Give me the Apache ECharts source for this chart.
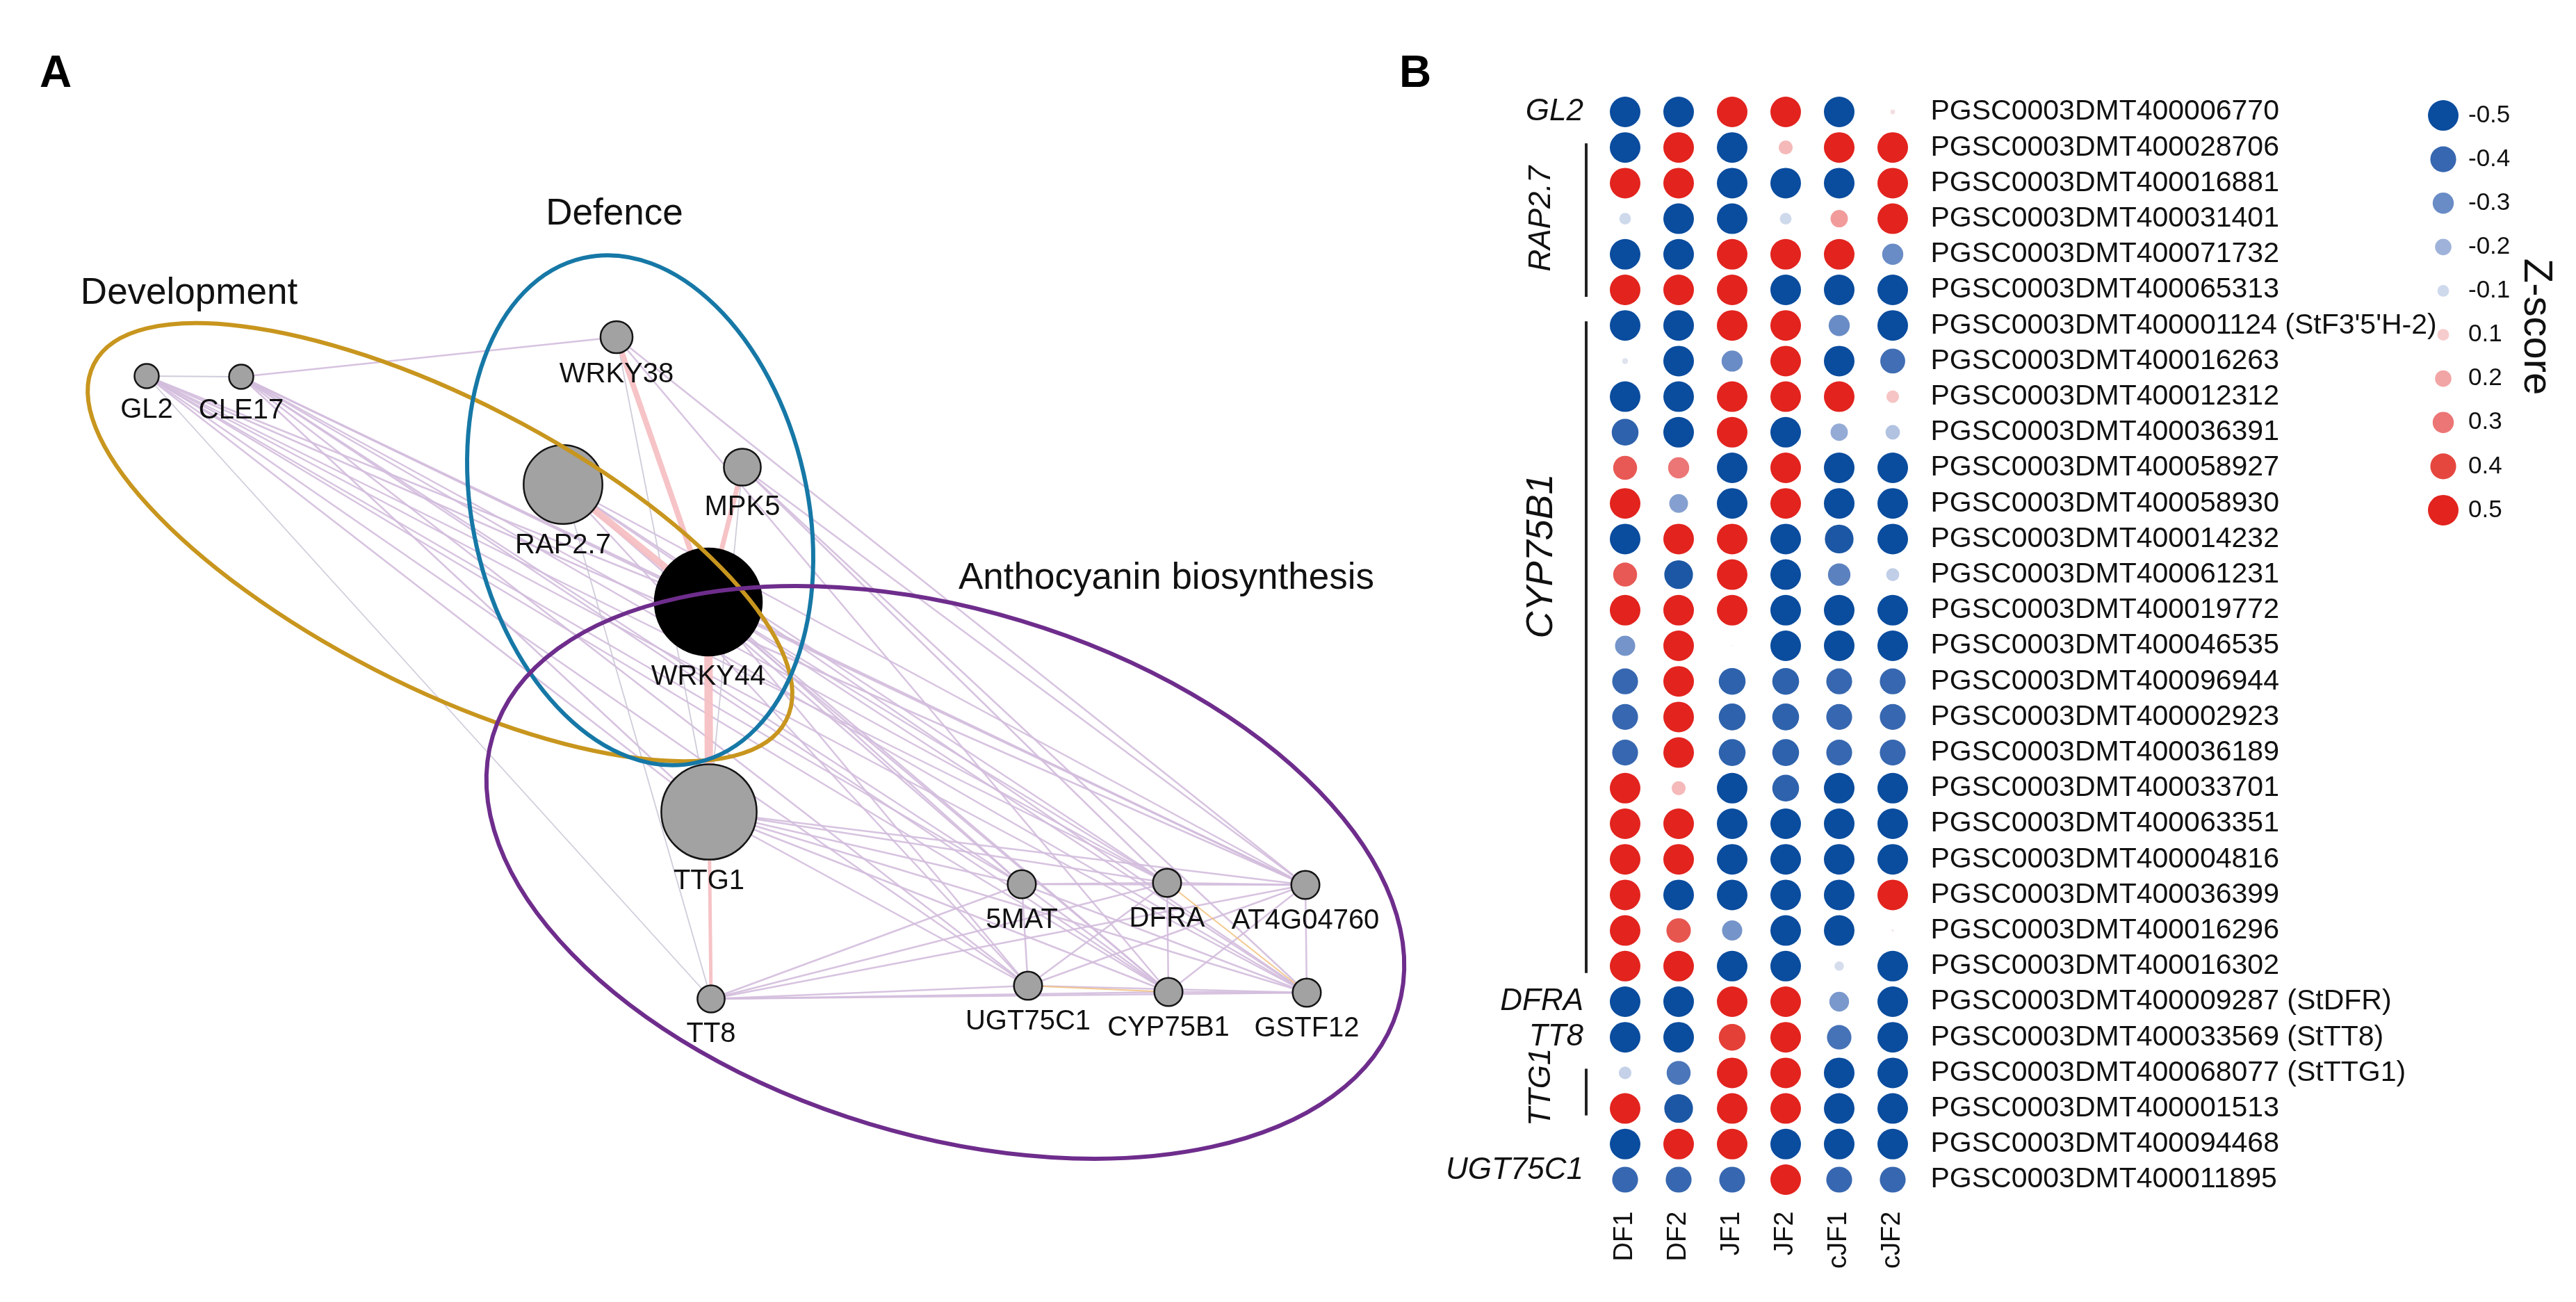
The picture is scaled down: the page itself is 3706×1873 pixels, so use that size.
<!DOCTYPE html>
<html><head><meta charset="utf-8">
<script src="https://cdn.jsdelivr.net/npm/echarts/dist/echarts.min.js"></script>
<style>html,body{margin:0;padding:0;background:#fff}#c{width:3706px;height:1873px}</style>
</head><body><div id="c"></div>
<script>
// ================= DATA =================
// ---- Panel A: network (layout coordinates in layout units) ----
const nodeNames = ['GL2','CLE17','WRKY38','RAP2.7','MPK5','WRKY44','TTG1','TT8','5MAT','DFRA','AT4G04760','UGT75C1','CYP75B1','GSTF12'];
const nodeX = [211, 347, 887, 810, 1068, 1019, 1020, 1023, 1470, 1679, 1878, 1479, 1681, 1880];
const nodeY = [541, 542, 485, 697, 672, 866, 1168, 1437, 1272, 1270, 1273, 1418, 1427, 1428];
const nodeScore = [0.25, 0.25, 0.33, 0.81, 0.38, 1.1, 0.98, 0.28, 0.29, 0.29, 0.29, 0.29, 0.29, 0.29];
const queryGene = 'WRKY44';
const coexpEdges = [['WRKY44','TTG1'],['WRKY44','RAP2.7'],['WRKY44','WRKY38'],['WRKY44','MPK5'],['TTG1','TT8']];
const coexpWeight = [12, 10, 8, 7, 5];
const pathwayEdges = [
 ['GL2','WRKY44'],['GL2','TTG1'],['GL2','5MAT'],['GL2','DFRA'],['GL2','AT4G04760'],['GL2','UGT75C1'],['GL2','CYP75B1'],['GL2','GSTF12'],
 ['CLE17','WRKY38'],['CLE17','WRKY44'],['CLE17','TTG1'],['CLE17','5MAT'],['CLE17','DFRA'],['CLE17','AT4G04760'],['CLE17','UGT75C1'],['CLE17','CYP75B1'],['CLE17','GSTF12'],
 ['RAP2.7','5MAT'],['RAP2.7','DFRA'],['RAP2.7','AT4G04760'],['RAP2.7','UGT75C1'],['RAP2.7','CYP75B1'],['RAP2.7','GSTF12'],
 ['WRKY38','AT4G04760'],['WRKY38','CYP75B1'],['MPK5','AT4G04760'],['MPK5','GSTF12'],['MPK5','DFRA'],
 ['WRKY44','5MAT'],['WRKY44','DFRA'],['WRKY44','AT4G04760'],['WRKY44','UGT75C1'],['WRKY44','CYP75B1'],['WRKY44','GSTF12'],
 ['TTG1','5MAT'],['TTG1','DFRA'],['TTG1','AT4G04760'],['TTG1','UGT75C1'],['TTG1','CYP75B1'],['TTG1','GSTF12'],
 ['TT8','5MAT'],['TT8','DFRA'],['TT8','AT4G04760'],['TT8','UGT75C1'],['TT8','CYP75B1'],['TT8','GSTF12'],
 ['5MAT','DFRA'],['DFRA','AT4G04760'],['5MAT','UGT75C1'],['DFRA','CYP75B1'],['AT4G04760','GSTF12'],['CYP75B1','GSTF12'],
 ['UGT75C1','GSTF12'],['5MAT','CYP75B1'],['5MAT','GSTF12'],['DFRA','UGT75C1'],['AT4G04760','UGT75C1'],['AT4G04760','CYP75B1'],['5MAT','AT4G04760']
];
const otherEdges = [['GL2','CLE17'],['GL2','TT8'],['RAP2.7','TT8'],['MPK5','TTG1'],['WRKY38','TTG1']];
const sharedDomainEdges = [['DFRA','GSTF12'],['UGT75C1','CYP75B1']];
const moduleNames = ['Development','Defence','Anthocyanin biosynthesis'];

// ---- Panel B: Z-score dot matrix ----
const samples = ['DF1','DF2','JF1','JF2','cJF1','cJF2'];
const transcripts = [
 'PGSC0003DMT400006770','PGSC0003DMT400028706','PGSC0003DMT400016881','PGSC0003DMT400031401',
 'PGSC0003DMT400071732','PGSC0003DMT400065313',"PGSC0003DMT400001124 (StF3'5'H-2)",'PGSC0003DMT400016263',
 'PGSC0003DMT400012312','PGSC0003DMT400036391','PGSC0003DMT400058927','PGSC0003DMT400058930',
 'PGSC0003DMT400014232','PGSC0003DMT400061231','PGSC0003DMT400019772','PGSC0003DMT400046535',
 'PGSC0003DMT400096944','PGSC0003DMT400002923','PGSC0003DMT400036189','PGSC0003DMT400033701',
 'PGSC0003DMT400063351','PGSC0003DMT400004816','PGSC0003DMT400036399','PGSC0003DMT400016296',
 'PGSC0003DMT400016302','PGSC0003DMT400009287 (StDFR)','PGSC0003DMT400033569 (StTT8)','PGSC0003DMT400068077 (StTTG1)',
 'PGSC0003DMT400001513','PGSC0003DMT400094468','PGSC0003DMT400011895'
];
const zDF1  = [-0.5,-0.5,0.5,-0.1,-0.5,0.5,-0.5,-0.05,-0.5,-0.42,0.36,0.5,-0.5,0.36,0.5,-0.28,-0.4,-0.4,-0.4,0.5,0.5,0.5,0.5,0.5,0.5,-0.5,-0.5,-0.12,0.5,-0.5,-0.4];
const zDF2  = [-0.5,0.5,0.5,-0.5,-0.5,0.5,-0.5,-0.5,-0.5,-0.5,0.3,-0.25,0.5,-0.46,0.5,0.5,0.5,0.5,0.5,0.15,0.5,0.5,-0.5,0.37,0.5,-0.5,-0.5,-0.36,-0.46,0.5,-0.4];
const zJF1  = [0.5,-0.5,-0.5,-0.5,0.5,0.5,0.5,-0.3,0.5,0.5,-0.5,-0.5,0.5,0.5,0.5,0.01,-0.42,-0.42,-0.42,-0.5,-0.5,-0.5,-0.5,-0.28,-0.5,0.5,0.42,0.5,0.5,0.5,-0.4];
const zJF2  = [0.5,0.15,-0.5,-0.1,0.5,-0.5,0.5,0.5,0.5,-0.5,0.5,0.5,-0.5,-0.5,-0.5,-0.5,-0.42,-0.42,-0.42,-0.42,-0.5,-0.5,-0.5,-0.5,-0.5,0.5,0.5,0.5,0.5,-0.5,0.5];
const zcJF1 = [-0.5,0.5,-0.5,0.22,0.5,-0.5,-0.3,-0.5,0.5,-0.22,-0.5,-0.5,-0.46,-0.33,-0.5,-0.5,-0.4,-0.4,-0.4,-0.5,-0.5,-0.5,-0.5,-0.5,-0.08,-0.27,-0.37,-0.5,-0.5,-0.5,-0.4];
const zcJF2 = [0.04,0.5,0.5,0.5,-0.3,-0.5,-0.5,-0.38,0.12,-0.16,-0.5,-0.5,-0.5,-0.13,-0.5,-0.5,-0.4,-0.4,-0.4,-0.5,-0.5,-0.5,0.5,0.02,-0.5,-0.5,-0.5,-0.5,-0.5,-0.5,-0.4];
const groupGenes = ['GL2','RAP2.7','CYP75B1','DFRA','TT8','TTG1','UGT75C1'];
const groupFirst = [0,1,6,25,26,27,29];
const groupLast  = [0,5,24,25,26,28,30];
const legendValues = [-0.5,-0.4,-0.3,-0.2,-0.1,0.1,0.2,0.3,0.4,0.5];

// ================= LAYOUT / STYLE =================
const FONT = '"Liberation Sans", Arial, Helvetica, sans-serif';
const groupRotated = [false,true,true,false,false,true,false];
const groupLabelFrac = [0.5,0.5,0.36,0.5,0.5,0.4,0.75];
const groupFontSize = [44,44,54,44,44,44,44];
const moduleColors = ['#c8961e','#1678a6','#6e2d8c'];
const moduleShapes = [
 {cx:633, cy:780, rx:560, ry:206, angle:27.25},
 {cx:921, cy:734, rx:372, ry:241, angle:77.3},
 {cx:1360, cy:1255, rx:680, ry:378, angle:16.8}
];
const moduleLabelAt = [[272,422],[884,308],[1678,832]];
const zColors = ['#0a4c9e','#3767b0','#6a8cc6','#9fb3da','#cfd9ec','#eeecef','#f7cccc','#f2a5a5','#ec7575','#e5473f','#e2231e'];

const nodeSize = s => 140 * s;
function dotSize(v){ const a = Math.min(Math.abs(v[2]), 0.5); return a >= 0.1 ? 10 + 68*a : 170*a; }

// ================= BUILD =================
const chart = echarts.init(document.getElementById('c'), null, {renderer:'canvas', width:3706, height:1873});

const links = [];
pathwayEdges.forEach(e => links.push({source:e[0], target:e[1], lineStyle:{color:'#d3bddd', width:2.5, opacity:0.9}}));
otherEdges.forEach(e => links.push({source:e[0], target:e[1], lineStyle:{color:'#cbc6d6', width:1.8, opacity:0.9}}));
sharedDomainEdges.forEach(e => links.push({source:e[0], target:e[1], lineStyle:{color:'#f2c383', width:2, opacity:0.9}}));
coexpEdges.forEach((e,i) => links.push({source:e[0], target:e[1], lineStyle:{color:'#f5c0c3', width:coexpWeight[i], opacity:0.95}}));

const zCols = [zDF1, zDF2, zJF1, zJF2, zcJF1, zcJF2];
const dots = [];
transcripts.forEach((t, r) => zCols.forEach((col, c) => dots.push([c, r, col[r]])));

const option = {
 animation: false,
 backgroundColor: '#ffffff',
 textStyle: {fontFamily: FONT},
 grid: [
  {left:0, top:0, width:2080, height:1873, outerBoundsMode:'none'},
  {left:2299.5, top:135.4, width:462, height:1587.2, outerBoundsMode:'none'},
  {left:3485, top:134.5, width:60, height:631, outerBoundsMode:'none'}
 ],
 xAxis: [
  {gridIndex:0, type:'value', min:0, max:2080, show:false},
  {gridIndex:1, type:'category', data:samples, axisLine:{show:false}, axisTick:{show:false}, splitLine:{show:false},
   axisLabel:{rotate:90, fontSize:38, color:'#111', margin:20, interval:0, fontFamily:FONT}},
  {gridIndex:2, type:'category', data:['Z-score'], show:false}
 ],
 yAxis: [
  {gridIndex:0, type:'value', min:0, max:1873, inverse:true, show:false},
  {gridIndex:1, type:'category', data:transcripts, inverse:true, position:'right',
   axisLine:{show:false}, axisTick:{show:false}, splitLine:{show:false},
   axisLabel:{fontSize:41, color:'#111', margin:16, interval:0, fontFamily:FONT}},
  {gridIndex:2, type:'category', data:legendValues.map(v => v.toFixed(1)), inverse:true, position:'right',
   axisLine:{show:false}, axisTick:{show:false}, splitLine:{show:false},
   axisLabel:{fontSize:35, color:'#111', margin:6, interval:0, fontFamily:FONT}}
 ],
 visualMap: {type:'continuous', show:false, min:-0.5, max:0.5, dimension:2, seriesIndex:[1,2], inRange:{color:zColors}},
 series: [
  {
   type:'graph', coordinateSystem:'cartesian2d', xAxisIndex:0, yAxisIndex:0,
   silent:true, symbol:'circle',
   data: nodeNames.map((n,i) => ({
     name:n, value:[nodeX[i], nodeY[i]], symbolSize: nodeSize(nodeScore[i]),
     itemStyle: n === queryGene ? {color:'#000000', borderColor:'#000000'} : undefined
   })),
   links: links,
   itemStyle: {color:'#a2a2a2', borderColor:'#151515', borderWidth:2.5, opacity:1},
   label: {show:true, position:'bottom', distance:10, fontSize:40, color:'#111', fontFamily:FONT},
   emphasis: {disabled:true},
   z: 2
  },
  {
   type:'scatter', xAxisIndex:1, yAxisIndex:1, data:dots, symbol:'circle',
   symbolSize: dotSize, silent:true, z:3, itemStyle:{opacity:1}
  },
  {
   type:'scatter', xAxisIndex:2, yAxisIndex:2, data: legendValues.map((v,i) => [0, i, v]), symbol:'circle',
   symbolSize: dotSize, silent:true, z:3, itemStyle:{opacity:1}
  }
 ]
};
chart.setOption(option);

// ================= ANNOTATIONS (positioned through the chart's coordinate systems) =================
const g = [];
const pA = (x, y) => chart.convertToPixel({gridIndex:0}, [x, y]);
const o = pA(0,0), u = pA(1000,1000);
const sx = (u[0]-o[0])/1000, sy = (u[1]-o[1])/1000;

moduleShapes.forEach((m, i) => {
 const c = pA(m.cx, m.cy);
 g.push({type:'ellipse', x:c[0], y:c[1], rotation:-m.angle*Math.PI/180, z:100, silent:true,
   shape:{cx:0, cy:0, rx:m.rx*sx, ry:m.ry*sy}, style:{fill:null, stroke:moduleColors[i], lineWidth:6}});
 const lp = pA(moduleLabelAt[i][0], moduleLabelAt[i][1]);
 g.push({type:'text', x:lp[0], y:lp[1], z:100, silent:true,
   style:{text:moduleNames[i], font:'53px ' + FONT, fill:'#111', textAlign:'center', textVerticalAlign:'middle', align:'center', verticalAlign:'middle'}});
});

g.push({type:'text', x:80, y:107, z:100, silent:true,
 style:{text:'A', font:'bold 64px ' + FONT, fill:'#000', textAlign:'center', textVerticalAlign:'middle', align:'center', verticalAlign:'middle'}});
const colX0 = chart.convertToPixel({gridIndex:1}, [0, 0])[0];
g.push({type:'text', x:2036, y:107, z:100, silent:true,
 style:{text:'B', font:'bold 64px ' + FONT, fill:'#000', textAlign:'center', textVerticalAlign:'middle', align:'center', verticalAlign:'middle'}});

const rowY = r => chart.convertToPixel({gridIndex:1}, [0, r])[1];
groupGenes.forEach((gene, i) => {
 const y0 = rowY(groupFirst[i]), y1 = rowY(groupLast[i]);
 const yc = y0 + (y1 - y0) * groupLabelFrac[i];
 const font = 'italic ' + groupFontSize[i] + 'px ' + FONT;
 if (groupRotated[i]) {
  g.push({type:'line', z:100, silent:true, shape:{x1:colX0-56, y1:y0-6, x2:colX0-56, y2:y1+10}, style:{stroke:'#222', lineWidth:4}});
  g.push({type:'text', x:colX0-120, y:yc, rotation:Math.PI/2, z:100, silent:true,
   style:{text:gene, font:font, fill:'#111', textAlign:'center', textVerticalAlign:'middle', align:'center', verticalAlign:'middle'}});
 } else {
  g.push({type:'text', x:colX0-60, y:yc, z:100, silent:true,
   style:{text:gene, font:font, fill:'#111', textAlign:'right', textVerticalAlign:'middle', align:'right', verticalAlign:'middle'}});
 }
});

const lg0 = chart.convertToPixel({gridIndex:2}, [0, 0]);
const lg1 = chart.convertToPixel({gridIndex:2}, [0, legendValues.length-1]);
g.push({type:'text', x:lg0[0]+133, y:(lg0[1]+lg1[1])/2 + 20, rotation:-Math.PI/2, z:100, silent:true,
 style:{text:'Z-score', font:'58px ' + FONT, fill:'#111', textAlign:'center', textVerticalAlign:'middle', align:'center', verticalAlign:'middle'}});

chart.setOption({graphic: g});
</script>
</body></html>
